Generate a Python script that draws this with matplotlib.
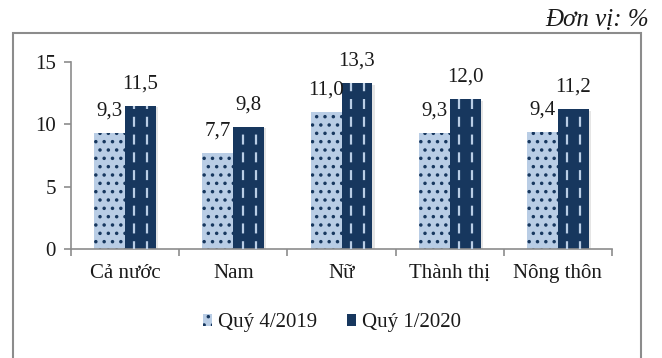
import matplotlib
matplotlib.use("Agg")
import matplotlib.pyplot as plt
import matplotlib.patheffects as pe
from matplotlib.patches import Rectangle, Patch
import numpy as np

# Tỷ lệ thiếu việc làm theo nhóm (%)
categories = ["Cả nước", "Nam", "Nữ", "Thành thị", "Nông thôn"]
q4_2019 = [9.3, 7.7, 11.0, 9.3, 9.4]
q1_2020 = [11.5, 9.8, 13.3, 12.0, 11.2]
series_names = ["Quý 4/2019", "Quý 1/2020"]
y_ticks = [0, 5, 10, 15]

LIGHT = "#b9cde5"
DARK = "#17375e"
AXIS = "#8c8c8c"
TEXT = "#1a1a1a"
FS = 15

plt.rcParams.update({
    "font.family": ["Liberation Serif", "DejaVu Serif"],
    "font.size": FS,
    "hatch.linewidth": 1.3,
})

fig = plt.figure(figsize=(6.62, 3.58), dpi=100)
ax = fig.add_axes([0.1073, 0.3045, 0.8172, 0.5223])

x = np.arange(len(categories))
w = 0.286
shadow = [pe.SimplePatchShadow(offset=(1.5, -1), shadow_rgbFace="#000000", alpha=0.10), pe.Normal()]

bars1 = ax.bar(x - w / 2, q4_2019, width=w, color=LIGHT, edgecolor=DARK, linewidth=0,
               hatch="..", zorder=2)
bars2 = ax.bar(x + w / 2, q1_2020, width=w, color=DARK, edgecolor=DARK, linewidth=0, zorder=2)
for b in list(bars1) + list(bars2):
    b.set_path_effects(shadow)

# vạch đứt đoạn dọc trên cột quý 1/2020
for b in bars2:
    for frac in (0.3, 0.72):
        xv = b.get_x() + b.get_width() * frac
        ax.plot([xv, xv], [0, b.get_height()], color=LIGHT, lw=1.6,
                linestyle=(1, (4.5, 3.5)), zorder=3, solid_capstyle="butt")

for bars, vals in ((bars1, q4_2019), (bars2, q1_2020)):
    for b, v in zip(bars, vals):
        ax.annotate(f"{v:.1f}".replace(".", ","), (b.get_x() + b.get_width() / 2, v),
                    xytext=(0, 9), textcoords="offset points", ha="center", va="bottom",
                    fontsize=FS, color=TEXT)

ax.set_xlim(-0.5, len(categories) - 0.5)
ax.set_ylim(0, 15)
ax.set_yticks(y_ticks)
ax.set_xticks(np.arange(len(categories) + 1) - 0.5)
ax.set_xticklabels([])
ax.set_xticks(x, minor=True)
ax.set_xticklabels(categories, minor=True)
ax.tick_params(axis="x", which="major", direction="out", length=5, width=1.2, color=AXIS)
ax.tick_params(axis="x", which="minor", length=0, pad=11, labelsize=FS, labelcolor=TEXT)
ax.tick_params(axis="y", direction="out", length=5, width=1.2, color=AXIS, pad=6,
               labelsize=FS, labelcolor=TEXT)
for s in ("top", "right"):
    ax.spines[s].set_visible(False)
for s in ("left", "bottom"):
    ax.spines[s].set_color(AXIS)
    ax.spines[s].set_linewidth(1.2)

handles = [Patch(facecolor=LIGHT, edgecolor=DARK, hatch="..", linewidth=0),
           Patch(facecolor=DARK, edgecolor=DARK, linewidth=0)]
fig.legend(handles, series_names, loc="center", bbox_to_anchor=(0.5015, 0.098), ncol=2,
           frameon=False, handlelength=0.45, handleheight=0.45, handletextpad=0.3,
           columnspacing=1.4, fontsize=FS, labelcolor=TEXT)

# khung viền ngoài
fig.patches.append(Rectangle((13 / 662, -0.02), 628 / 662, 0.9278, transform=fig.transFigure,
                             fill=False, edgecolor=AXIS, linewidth=1.5))
fig.text(0.981, 0.945, "Đơn vị: %", ha="right", va="center", fontsize=18,
         style="italic", color=TEXT)

fig.savefig("out.png", dpi=100)
